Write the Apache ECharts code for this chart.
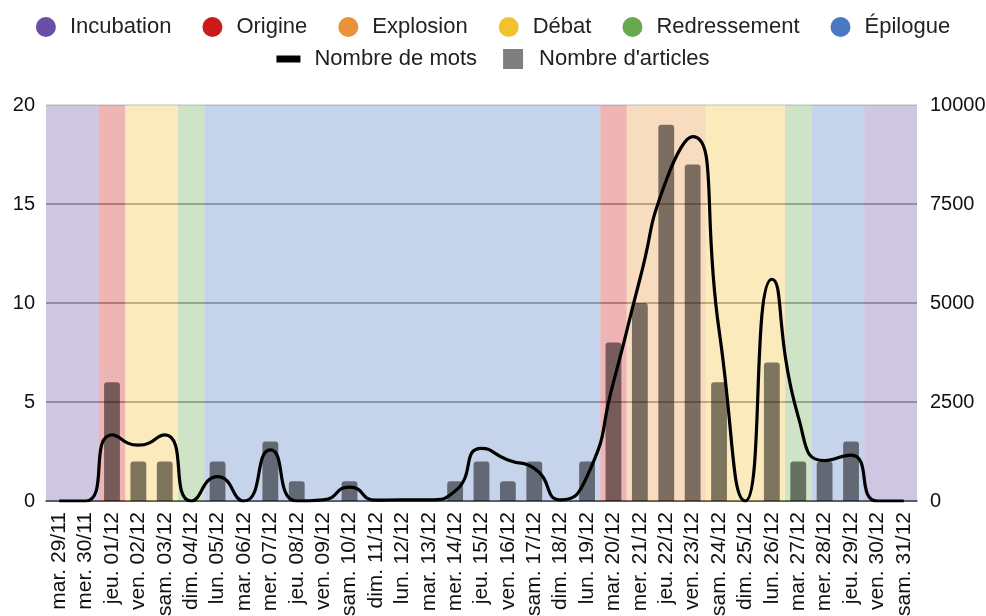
<!DOCTYPE html>
<html>
<head>
<meta charset="utf-8">
<script src="https://cdn.jsdelivr.net/npm/echarts@6/dist/echarts.min.js"></script>
<style>
html,body{margin:0;padding:0;background:#fff;}
#chart{width:986px;height:616px;}
</style>
</head>
<body>
<div id="chart"></div>
<script>
const categories = ["mar. 29/11","mer. 30/11","jeu. 01/12","ven. 02/12","sam. 03/12","dim. 04/12","lun. 05/12","mar. 06/12","mer. 07/12","jeu. 08/12","ven. 09/12","sam. 10/12","dim. 11/12","lun. 12/12","mar. 13/12","mer. 14/12","jeu. 15/12","ven. 16/12","sam. 17/12","dim. 18/12","lun. 19/12","mar. 20/12","mer. 21/12","jeu. 22/12","ven. 23/12","sam. 24/12","dim. 25/12","lun. 26/12","mar. 27/12","mer. 28/12","jeu. 29/12","ven. 30/12","sam. 31/12"];
const articles = [0,0,6,2,2,0,2,0,3,1,0,1,0,0,0,1,2,1,2,0,2,8,10,19,17,6,0,7,2,2,3,0,0];
const mots = [0,0,1670,1410,1670,0,615,0,1290,0,30,350,20,30,30,250,1330,1035,825,30,620,3000,5600,8100,9200,4320,0,5600,2130,1020,1160,0,0];
const leftTicks = [0,5,10,15,20];
const rightTicks = [0,2500,5000,7500,10000];
const phaseNames = ["Incubation","Origine","Explosion","Débat","Redressement","Épilogue"];
const phaseColors = ["#6b4fa6","#cc1a1a","#e8923a","#f2c22e","#6aa84f","#4a78c2"];
// phase periods: [phaseIndex, firstCategory, lastCategory]
const periods = [
  [0,"mar. 29/11","mer. 30/11"],
  [1,"jeu. 01/12","jeu. 01/12"],
  [3,"ven. 02/12","sam. 03/12"],
  [4,"dim. 04/12","dim. 04/12"],
  [5,"lun. 05/12","lun. 19/12"],
  [1,"mar. 20/12","mar. 20/12"],
  [2,"mer. 21/12","ven. 23/12"],
  [3,"sam. 24/12","lun. 26/12"],
  [4,"mar. 27/12","mar. 27/12"],
  [5,"mer. 28/12","jeu. 29/12"],
  [0,"ven. 30/12","sam. 31/12"]
];

const font = "Liberation Sans, Arial, sans-serif";
const chart = echarts.init(document.getElementById('chart'), null, {renderer:'canvas'});

const phaseSeries = phaseNames.map((name, i) => ({
  name: name,
  type: 'line',
  xAxisIndex: 1,
  yAxisIndex: 0,
  data: [],
  color: phaseColors[i],
  silent: true,
  markArea: {
    silent: true,
    itemStyle: {color: phaseColors[i], opacity: 0.32},
    data: periods.filter(p => p[0] === i).map(p => [
      {xAxis: categories.indexOf(p[1])},
      {xAxis: categories.indexOf(p[2]) + 1}
    ])
  },
  z: 1
}));

const option = {
  animation: false,
  textStyle: {fontFamily: font},
  legend: [
    {
      data: phaseNames,
      top: 11,
      left: 'center',
      icon: 'circle',
      itemWidth: 24,
      itemHeight: 20,
      itemGap: 31,
      textStyle: {fontSize: 22, color: '#222', fontFamily: font, padding: [0,0,0,7]},
      selectedMode: false
    },
    {
      data: [
        {name: 'Nombre de mots', icon: 'path://M0,0h24v7h-24z'},
        {name: "Nombre d'articles", icon: 'path://M0,0h20v20h-20z'}
      ],
      top: 43,
      left: 'center',
      itemWidth: 24,
      itemHeight: 20,
      itemGap: 26,
      textStyle: {fontSize: 22, color: '#222', fontFamily: font, padding: [0,0,0,9]},
      selectedMode: false
    }
  ],
  grid: {left: 46, right: 69, top: 105, bottom: 115, containLabel: false, outerBoundsMode: 'none'},
  xAxis: [
    {
      type: 'category',
      data: categories,
      boundaryGap: true,
      axisLine: {lineStyle: {color: '#444', width: 1.5}},
      axisTick: {show: false},
      axisLabel: {rotate: 90, fontSize: 21, color: '#111', margin: 11, interval: 0, fontFamily: font}
    },
    {
      type: 'value', min: 0, max: categories.length, show: false
    }
  ],
  yAxis: [
    {
      type: 'value', min: leftTicks[0], max: leftTicks[leftTicks.length-1], interval: leftTicks[1]-leftTicks[0],
      axisLabel: {fontSize: 20, color: '#111', margin: 11, fontFamily: font},
      axisLine: {show: false}, axisTick: {show: false},
      splitLine: {lineStyle: {color: ['#888','#8a8a8a','#8a8a8a','#8a8a8a','#d4d4d4'], width: 1.5}}
    },
    {
      type: 'value', min: rightTicks[0], max: rightTicks[rightTicks.length-1], interval: rightTicks[1]-rightTicks[0],
      axisLabel: {fontSize: 20, color: '#111', margin: 13, fontFamily: font, formatter: v => String(v)},
      axisLine: {show: false}, axisTick: {show: false},
      splitLine: {show: false}
    }
  ],
  series: phaseSeries.concat([
    {
      name: "Nombre d'articles",
      type: 'bar',
      xAxisIndex: 0,
      yAxisIndex: 0,
      data: articles,
      barWidth: '60%',
      itemStyle: {color: 'rgba(0,0,0,0.5)', borderRadius: [3,3,0,0]},
      z: 3
    },
    {
      name: 'Nombre de mots',
      type: 'line',
      xAxisIndex: 0,
      yAxisIndex: 1,
      data: mots,
      smooth: 0.6,
      showSymbol: false,
      symbol: 'none',
      color: '#000',
      lineStyle: {color: '#000', width: 3.2},
      z: 5
    }
  ])
};
chart.setOption(option);
</script>
</body>
</html>
